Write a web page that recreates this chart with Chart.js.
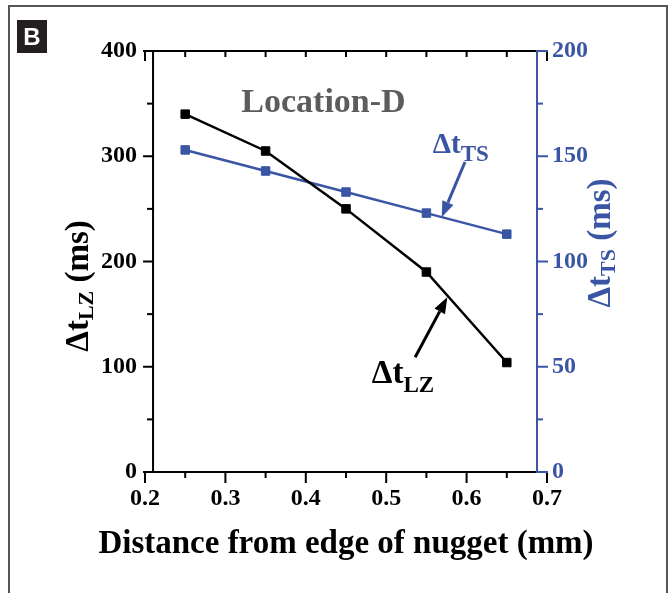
<!DOCTYPE html>
<html>
<head>
<meta charset="utf-8">
<script src="https://cdn.jsdelivr.net/npm/chart.js@4/dist/chart.umd.min.js"></script>
<style>
  html, body { margin: 0; padding: 0; background: #fff; }
</style>
</head>
<body>
<canvas id="chart" width="672" height="593"></canvas>
<script>
"use strict";

// data
const distance = [0.25, 0.35, 0.45, 0.55, 0.65];
const dtLZ = [340, 305, 250, 190, 104];
const dtTS = [153, 143, 133, 123, 113];

const xTicks = [0.2, 0.3, 0.4, 0.5, 0.6, 0.7];
const lzTicks = [0, 100, 200, 300, 400];
const tsTicks = [0, 50, 100, 150, 200];

const SERIF = "'Liberation Serif', 'Times New Roman', serif";
const BLUE = '#3a55a4';
const GRAY = '#5c5c5c';

// where the two y axis lines sit on the x scale
const leftAxisAt = 0.21;
const rightAxisAt = 0.6876;

function line(ctx, x1, y1, x2, y2) {
    ctx.beginPath();
    ctx.moveTo(x1, y1);
    ctx.lineTo(x2, y2);
    ctx.stroke();
}

function arrow(ctx, x1, y1, x2, y2, color) {
    const ang = Math.atan2(y2 - y1, x2 - x1);
    const headLen = 16, headW = 6;
    const bx = x2 - headLen * Math.cos(ang), by = y2 - headLen * Math.sin(ang);
    ctx.strokeStyle = color;
    ctx.fillStyle = color;
    ctx.lineWidth = 3;
    line(ctx, x1, y1, bx, by);
    ctx.beginPath();
    ctx.moveTo(x2, y2);
    ctx.lineTo(bx + headW * Math.sin(ang), by - headW * Math.cos(ang));
    ctx.lineTo(bx - headW * Math.sin(ang), by + headW * Math.cos(ang));
    ctx.closePath();
    ctx.fill();
}

// text with a subscript: [main, sub, tail]
function richText(ctx, x, y, parts, size, subSize, subDrop, align) {
    ctx.font = 'bold ' + size + 'px ' + SERIF;
    const w1 = ctx.measureText(parts[0]).width;
    const w3 = parts[2] ? ctx.measureText(parts[2]).width : 0;
    ctx.font = 'bold ' + subSize + 'px ' + SERIF;
    const w2 = ctx.measureText(parts[1]).width;
    let sx = align === 'center' ? x - (w1 + w2 + w3) / 2 : x;
    ctx.textAlign = 'left';
    ctx.textBaseline = 'alphabetic';
    ctx.font = 'bold ' + size + 'px ' + SERIF;
    ctx.fillText(parts[0], sx, y);
    ctx.font = 'bold ' + subSize + 'px ' + SERIF;
    ctx.fillText(parts[1], sx + w1, y + subDrop);
    if (parts[2]) {
        ctx.font = 'bold ' + size + 'px ' + SERIF;
        ctx.fillText(parts[2], sx + w1 + w2, y);
    }
}

const frameAxes = {
    id: 'frameAxes',
    beforeDatasetsDraw(chart) {
        const ctx = chart.ctx;
        const ca = chart.chartArea;
        const x = chart.scales.x, y = chart.scales.y, y2 = chart.scales.y2;
        const xl = x.getPixelForValue(leftAxisAt);
        const xr = x.getPixelForValue(rightAxisAt);
        ctx.save();
        ctx.lineCap = 'square';
        ctx.lineWidth = 2;
        ctx.strokeStyle = '#000';

        // top and bottom
        line(ctx, ca.left, ca.top, ca.right, ca.top);
        line(ctx, ca.left, ca.bottom, ca.right, ca.bottom);
        for (let i = 0; i <= 10; i++) {
            const px = x.getPixelForValue(0.2 + i * 0.05);
            const major = i % 2 === 0;
            line(ctx, px, ca.bottom, px, ca.bottom + (major ? 10 : 5));
            const topLen = (i === 0 || i === 10) ? 9 : 5;
            line(ctx, px, ca.top, px, ca.top + topLen);
        }

        // left axis
        line(ctx, xl, ca.top, xl, ca.bottom);
        for (let i = 0; i <= 8; i++) {
            const py = y.getPixelForValue(i * 50);
            line(ctx, xl - (i % 2 ? 5 : 9), py, xl, py);
        }

        // right axis
        ctx.strokeStyle = BLUE;
        line(ctx, xr, ca.top, xr, ca.bottom);
        for (let i = 0; i <= 8; i++) {
            const py = y2.getPixelForValue(i * 25);
            line(ctx, xr, py, xr + (i % 2 ? 5 : 10), py);
        }
        ctx.restore();
    },
    afterDatasetsDraw(chart) {
        const ctx = chart.ctx;
        const ca = chart.chartArea;
        const x = chart.scales.x, y = chart.scales.y;
        ctx.save();

        // outer frame and panel letter
        ctx.strokeStyle = '#555';
        ctx.lineWidth = 2;
        ctx.beginPath();
        ctx.moveTo(9, 600);
        ctx.lineTo(9, 6);
        ctx.lineTo(667, 6);
        ctx.lineTo(667, 600);
        ctx.stroke();
        ctx.fillStyle = '#231f20';
        ctx.fillRect(17, 20, 30, 33);
        ctx.fillStyle = '#fff';
        ctx.font = "bold 24px 'Liberation Sans', Arial, sans-serif";
        ctx.textAlign = 'center';
        ctx.textBaseline = 'alphabetic';
        ctx.fillText('B', 32, 45);

        // x title (drawn here so it is not squeezed to the plot width)
        ctx.fillStyle = '#000';
        ctx.font = 'bold 33px ' + SERIF;
        ctx.fillText('Distance from edge of nugget (mm)', (ca.left + ca.right) / 2, ca.bottom + 81);

        // Location-D
        ctx.fillStyle = GRAY;
        ctx.font = 'bold 34px ' + SERIF;
        ctx.fillText('Location-D', x.getPixelForValue(0.422), y.getPixelForValue(342));

        // series labels with arrows
        ctx.fillStyle = BLUE;
        richText(ctx, x.getPixelForValue(0.558), y.getPixelForValue(303), ['\u0394t', 'TS'], 29, 23, 8);
        arrow(ctx, x.getPixelForValue(0.598), y.getPixelForValue(294.5),
              x.getPixelForValue(0.569), y.getPixelForValue(242), BLUE);

        ctx.fillStyle = '#000';
        richText(ctx, x.getPixelForValue(0.482), y.getPixelForValue(84.6), ['\u0394t', 'LZ'], 33, 23, 9);
        arrow(ctx, x.getPixelForValue(0.536), y.getPixelForValue(109),
              x.getPixelForValue(0.576), y.getPixelForValue(166), '#000');

        // y titles, rotated
        ctx.save();
        ctx.translate(ca.left - 57, 286);
        ctx.rotate(-Math.PI / 2);
        ctx.fillStyle = '#000';
        richText(ctx, 0, 0, ['\u0394t', 'LZ', ' (ms)'], 33, 22, 5, 'center');
        ctx.restore();

        ctx.save();
        ctx.translate(ca.right + 63, 243);
        ctx.rotate(-Math.PI / 2);
        ctx.fillStyle = BLUE;
        richText(ctx, 0, 0, ['\u0394t', 'TS', ' (ms)'], 33, 22, 5, 'center');
        ctx.restore();

        ctx.restore();
    }
};

const tickFont = { family: SERIF, size: 24, weight: 'bold' };

new Chart(document.getElementById('chart'), {
    type: 'line',
    data: {
        datasets: [{
            label: 'LZ',
            data: distance.map((d, i) => ({ x: d, y: dtLZ[i] })),
            yAxisID: 'y',
            borderColor: '#000',
            backgroundColor: '#000',
            borderWidth: 2.5,
            pointStyle: 'rect',
            pointRadius: 6,
            pointBorderWidth: 1,
            tension: 0
        }, {
            label: 'TS',
            data: distance.map((d, i) => ({ x: d, y: dtTS[i] })),
            yAxisID: 'y2',
            borderColor: BLUE,
            backgroundColor: BLUE,
            borderWidth: 2.5,
            pointStyle: 'rect',
            pointRadius: 6,
            pointBorderWidth: 1,
            tension: 0
        }]
    },
    options: {
        responsive: false,
        animation: false,
        devicePixelRatio: 1,
        layout: { padding: { top: 51 } },
        plugins: {
            legend: { display: false },
            tooltip: { enabled: false }
        },
        scales: {
            x: {
                type: 'linear',
                position: 'bottom',
                min: 0.2,
                max: 0.7,
                grid: { display: false, drawTicks: false, tickLength: 0 },
                border: { display: false },
                afterBuildTicks: (s) => { s.ticks = xTicks.map(v => ({ value: v })); },
                afterFit: (s) => { s.height = 121; },
                ticks: {
                    font: tickFont,
                    color: '#000',
                    padding: 12,
                    maxRotation: 0,
                    callback: (v) => Number(v).toFixed(1)
                }
            },
            y: {
                position: 'left',
                min: 0,
                max: 400,
                grid: { display: false, drawTicks: false, tickLength: 0 },
                border: { display: false },
                afterBuildTicks: (s) => { s.ticks = lzTicks.map(v => ({ value: v })); },
                afterFit: (s) => { s.width = 145; },
                ticks: { font: tickFont, color: '#000', padding: 8 }
            },
            y2: {
                position: 'right',
                min: 0,
                max: 200,
                grid: { display: false, drawTicks: false, tickLength: 0 },
                border: { display: false },
                afterBuildTicks: (s) => { s.ticks = tsTicks.map(v => ({ value: v })); },
                afterFit: (s) => { s.width = 125; },
                ticks: { font: tickFont, color: BLUE, padding: 5 }
            }
        }
    },
    plugins: [frameAxes]
});
</script>
</body>
</html>
